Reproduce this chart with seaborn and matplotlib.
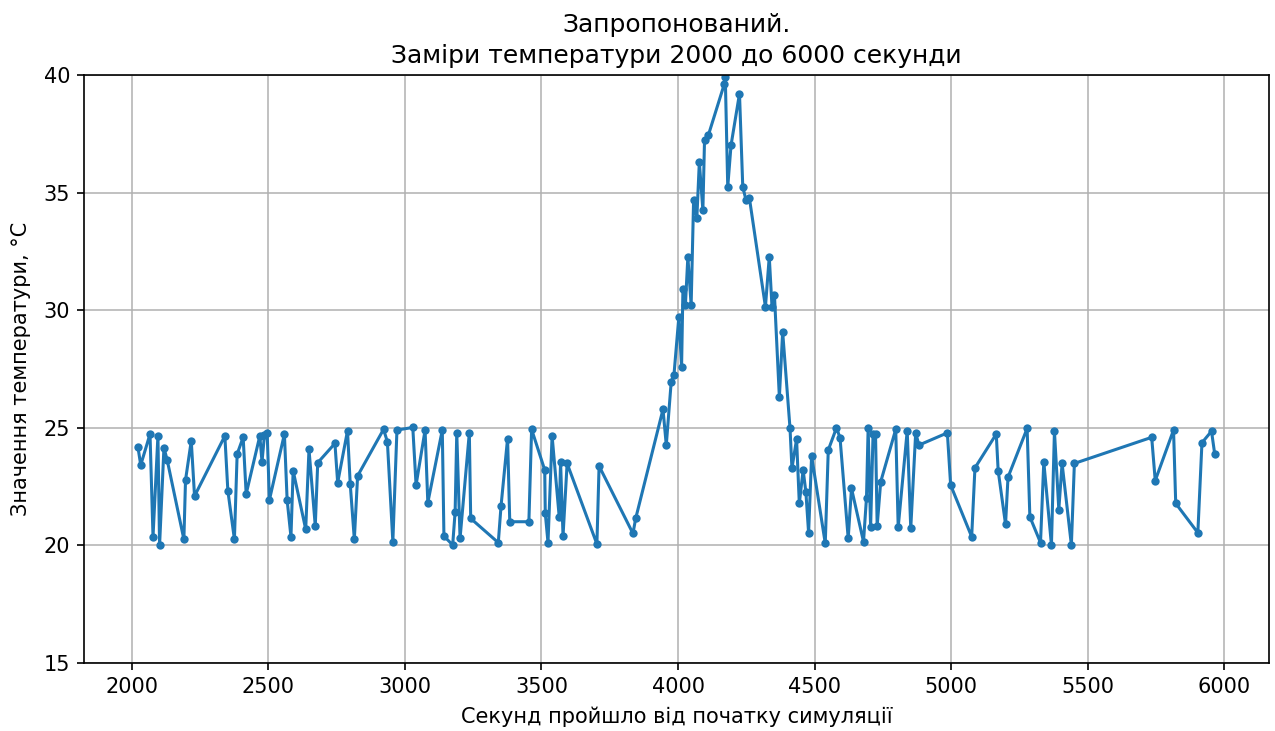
import numpy as np
import pandas as pd
import seaborn as sns
import matplotlib
matplotlib.use("Agg")
import matplotlib.pyplot as plt

# Час (секунди) та температура
seconds = [
    2023, 2033, 2067, 2078, 2096, 2102, 2118, 2130, 2191, 2197, 2218, 2230,
    2341, 2352, 2376, 2386, 2408, 2419, 2469, 2477, 2486, 2496, 2504, 2559,
    2569, 2583, 2591, 2637, 2649, 2672, 2681, 2744, 2754, 2790, 2800, 2815,
    2827, 2922, 2936, 2956, 2971, 3029, 3041, 3074, 3084, 3137, 3143, 3175,
    3184, 3190, 3202, 3236, 3241, 3342, 3352, 3376, 3384, 3454, 3464, 3512,
    3514, 3524, 3539, 3565, 3570, 3579, 3594, 3703, 3711, 3835, 3845, 3945,
    3957, 3975, 3985, 4003, 4013, 4018, 4027, 4036, 4048, 4057, 4069, 4078,
    4091, 4097, 4111, 4170, 4173, 4182, 4194, 4225, 4237, 4249, 4261, 4320,
    4334, 4344, 4353, 4371, 4383, 4410, 4417, 4434, 4444, 4458, 4468, 4478,
    4489, 4539, 4550, 4580, 4593, 4623, 4635, 4679, 4690, 4696, 4705, 4714,
    4723, 4729, 4742, 4797, 4806, 4839, 4852, 4870, 4882, 4986, 4998, 5075,
    5087, 5165, 5172, 5199, 5208, 5278, 5288, 5327, 5339, 5367, 5378, 5394,
    5406, 5440, 5451, 5734, 5747, 5814, 5822, 5903, 5918, 5953, 5965,
]
temperature = [
    24.17, 23.42, 24.74, 20.37, 24.67, 20.00, 24.16, 23.63, 20.26, 22.78, 24.45, 22.10,
    24.66, 22.33, 20.26, 23.89, 24.60, 22.19, 24.66, 23.56, 24.69, 24.79, 21.93, 24.74,
    21.93, 20.37, 23.18, 20.69, 24.09, 20.83, 23.52, 24.34, 22.67, 24.88, 22.61, 20.26,
    22.96, 24.94, 24.41, 20.16, 24.91, 25.02, 22.57, 24.91, 21.82, 24.91, 20.40, 20.02,
    21.43, 24.79, 20.30, 24.79, 21.15, 20.12, 21.67, 24.55, 21.01, 21.01, 24.94, 23.21,
    21.37, 20.12, 24.66, 21.22, 23.56, 20.40, 23.49, 20.06, 23.38, 20.51, 21.15, 25.79,
    24.27, 26.96, 27.24, 29.72, 27.60, 30.93, 30.22, 32.28, 30.22, 34.69, 33.95, 36.31,
    34.26, 37.24, 37.45, 39.65, 39.93, 35.25, 37.02, 39.22, 35.25, 34.69, 34.80, 30.15,
    32.28, 30.15, 30.65, 26.30, 29.09, 24.98, 23.28, 24.52, 21.79, 23.21, 22.28, 20.54,
    23.81, 20.09, 24.06, 25.00, 24.59, 20.30, 22.43, 20.16, 22.04, 25.00, 20.77, 24.74,
    24.74, 20.83, 22.71, 24.94, 20.77, 24.88, 20.73, 24.79, 24.27, 24.79, 22.57, 20.37,
    23.30, 24.74, 23.18, 20.90, 22.90, 24.98, 21.22, 20.12, 23.56, 20.02, 24.86, 21.53,
    23.49, 20.02, 23.49, 24.60, 22.76, 24.91, 21.79, 20.54, 24.37, 24.86, 23.87,
]

df = pd.DataFrame({"sec": seconds, "temp": temperature})

fig, ax = plt.subplots(figsize=(12.75, 7.31), dpi=100)
fig.subplots_adjust(left=0.066, right=0.995, top=0.897, bottom=0.093)

sns.lineplot(data=df, x="sec", y="temp", marker="o", markersize=6,
             markeredgewidth=0, linewidth=2.2, color="#1f77b4",
             sort=False, estimator=None, ax=ax)

ax.set_ylim(15, 40)
ax.set_xticks(np.arange(2000, 6001, 500))
ax.grid(True, color="#b0b0b0", linewidth=1.1)
ax.set_axisbelow(True)
ax.tick_params(labelsize=15, length=5, width=1.2, pad=5)
for s in ax.spines.values():
    s.set_linewidth(1.2)

ax.set_title("Запропонований.\nЗаміри температури 2000 до 6000 секунди",
             fontsize=18, pad=9, linespacing=1.35)
ax.set_xlabel("Секунд пройшло від початку симуляції", fontsize=15, labelpad=7)
ax.set_ylabel("Значення температури, °C", fontsize=15, labelpad=9)

fig.savefig("out.png", dpi=100)
